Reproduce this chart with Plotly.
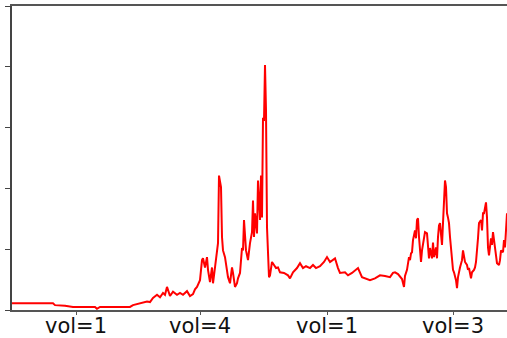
import plotly.graph_objects as go

# sample index (time steps) and series value
x_idx = [0, 8, 18, 28, 41, 43, 48, 53, 61, 73, 83, 85, 88, 103, 118, 121, 128, 135, 138, 141,
         145, 148, 151, 153, 155, 158, 161, 165, 168, 171, 175, 178, 181, 183, 185, 188, 190, 191, 193, 195,
         196, 198, 200, 201, 203, 205, 206, 207, 208, 209, 210, 211, 213, 215, 216, 218, 220, 221, 223, 225,
         226, 228, 230, 231, 232, 234, 235, 236, 238, 240, 241, 242, 243, 245, 246, 248, 249, 250, 251, 252,
         253, 254, 255, 256, 257, 258, 260, 262, 264, 266, 268, 272, 276, 278, 281, 285, 288, 291, 294, 298,
         301, 304, 308, 312, 315, 318, 321, 323, 326, 328, 333, 336, 340, 344, 346, 350, 354, 358, 363, 368,
         373, 378, 381, 383, 386, 388, 390, 392, 393, 395, 396, 397, 398, 399, 400, 401, 403, 404, 405, 406,
         407, 408, 409, 410, 412, 413, 415, 416, 417, 418, 420, 421, 422, 424, 425, 426, 427, 428, 429, 430,
         431, 432, 433, 434, 435, 436, 437, 438, 439, 440, 441, 442, 443, 444, 445, 446, 448, 450, 451, 452,
         453, 455, 456, 457, 459, 460, 462, 463, 464, 466, 467, 469, 470, 471, 472, 474, 475, 476, 477, 479,
         480, 481, 483, 484, 485, 487, 488, 489, 491, 492, 493, 495]
values = [0.11, 0.11, 0.11, 0.10, 0.11, 0.08, 0.08, 0.07, 0.05, 0.05, 0.05, 0.02, 0.05, 0.05, 0.05, 0.08, 0.11, 0.14, 0.13, 0.20,
          0.25, 0.21, 0.28, 0.25, 0.38, 0.23, 0.30, 0.25, 0.28, 0.25, 0.31, 0.23, 0.26, 0.34, 0.38, 0.49, 0.82, 0.85, 0.70, 0.87,
          0.66, 0.46, 0.70, 0.44, 0.70, 1.03, 1.10, 2.21, 2.10, 2.02, 1.20, 0.98, 0.87, 0.61, 0.54, 0.44, 0.70, 0.61, 0.38, 0.44,
          0.52, 0.61, 1.02, 0.98, 1.48, 0.98, 0.87, 0.82, 1.10, 1.28, 1.80, 1.20, 1.59, 1.26, 2.13, 1.48, 2.21, 1.52, 3.16, 3.11,
          4.03, 3.28, 1.36, 0.98, 0.54, 0.57, 0.79, 0.74, 0.69, 0.70, 0.62, 0.61, 0.57, 0.52, 0.62, 0.69, 0.77, 0.69, 0.72, 0.69,
          0.74, 0.69, 0.72, 0.79, 0.87, 0.79, 0.82, 0.85, 0.69, 0.61, 0.62, 0.57, 0.61, 0.66, 0.69, 0.54, 0.52, 0.49, 0.52, 0.57,
          0.56, 0.54, 0.61, 0.62, 0.59, 0.54, 0.51, 0.38, 0.56, 0.66, 0.77, 0.87, 0.82, 0.93, 0.95, 1.15, 1.31, 1.18, 1.48, 1.51,
          1.20, 0.98, 0.79, 0.98, 1.20, 1.28, 1.26, 1.03, 0.85, 1.02, 0.85, 1.11, 0.87, 1.03, 0.85, 1.20, 1.39, 1.43, 1.20, 1.07,
          1.43, 1.85, 2.13, 2.02, 1.59, 1.52, 1.43, 1.20, 1.03, 0.87, 0.66, 0.62, 0.57, 0.49, 0.36, 0.54, 0.70, 0.82, 0.98, 0.87,
          0.79, 0.74, 0.66, 0.69, 0.52, 0.62, 0.66, 0.70, 0.79, 1.18, 1.43, 1.48, 1.31, 1.59, 1.59, 1.77, 1.52, 1.03, 0.90, 1.18,
          1.07, 1.28, 1.07, 0.90, 0.77, 0.74, 0.82, 0.98, 0.95, 1.15, 1.03, 1.59]

tick_positions = [64, 188, 315, 441]
tick_labels = ["vol=1", "vol=4", "vol=1", "vol=3"]
y_ticks = [0, 1, 2, 3, 4, 5]

fig = go.Figure()
fig.add_trace(go.Scatter(
    x=x_idx, y=values, mode="lines",
    line=dict(color="#ff0000", width=2),
    hoverinfo="skip", showlegend=False,
))

fig.update_layout(
    width=507, height=338,
    margin=dict(l=12, r=0, t=6, b=28, pad=0),
    paper_bgcolor="white", plot_bgcolor="white",
    font=dict(family="DejaVu Sans", size=21, color="#111111"),
    showlegend=False,
)
fig.update_xaxes(
    range=[0, 495], showgrid=False, zeroline=False, automargin=False,
    showline=True, linecolor="#555555", linewidth=2, mirror=True,
    tickmode="array", tickvals=tick_positions, ticktext=tick_labels,
    ticks="outside", ticklen=3, tickwidth=1, tickcolor="#555555",
    ticklabelstandoff=-7,
    tickfont=dict(family="DejaVu Sans", size=21, color="#111111"),
)
fig.update_yaxes(
    range=[0, 5], showgrid=False, zeroline=False, automargin=False,
    showline=True, linecolor="#444444", linewidth=2, mirror=False,
    tickmode="array", tickvals=y_ticks, showticklabels=False,
    ticks="outside", ticklen=5, tickwidth=1, tickcolor="#444444",
)

fig.write_html(
    "out.html",
    config={"displayModeBar": False, "responsive": False},
    post_script="document.body.style.margin='0';document.body.style.overflow='hidden';",
)
